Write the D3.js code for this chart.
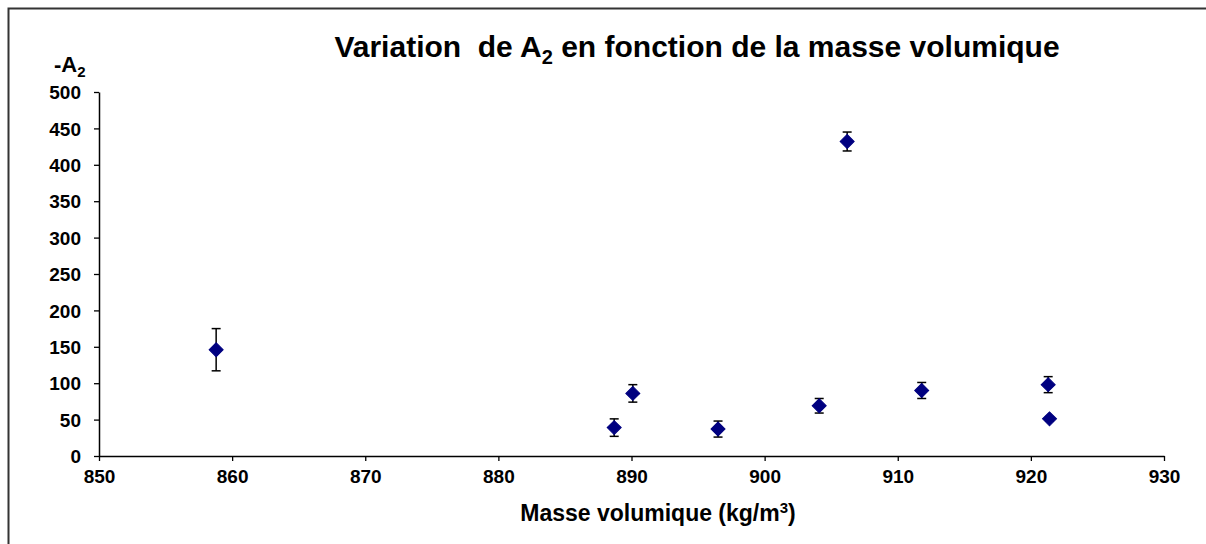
<!DOCTYPE html>
<html>
<head>
<meta charset="utf-8">
<script src="https://cdn.jsdelivr.net/npm/d3@7"></script>
<style>
  html, body { margin: 0; padding: 0; background: #fff; }
  svg { display: block; }
  text { font-family: Arial, "Liberation Sans", sans-serif; font-weight: bold; fill: #000; }
</style>
</head>
<body>
<svg id="chart" width="1206" height="544"></svg>
<script>
// ---- data ----
const density = [858.8, 888.7, 890.1, 896.5, 904.1, 906.2, 911.8, 921.3, 921.4];
const minusA2 = [146, 39, 86, 37, 69, 432, 90, 98, 51];
const errA2   = [29, 12, 12, 11, 10, 13, 11, 11, 3];
const xTicks = [850, 860, 870, 880, 890, 900, 910, 920, 930];
const yTicks = [0, 50, 100, 150, 200, 250, 300, 350, 400, 450, 500];
const titleText = ["Variation  de A", "2", " en fonction de la masse volumique"];
const xLabel = ["Masse volumique (kg/m", "3", ")"];
const yLabel = ["-A", "2"];

const svg = d3.select("#chart");
const W = 1206, H = 544;
const plot = { left: 99, right: 1164, top: 92, bottom: 456 };

// outer frame
svg.append("path")
  .attr("d", `M8.5,${H} V8.5 H${W}`)
  .attr("fill", "none").attr("stroke", "#333").attr("stroke-width", 2);

const x = d3.scaleLinear().domain([850, 930]).range([plot.left, plot.right]);
const y = d3.scaleLinear().domain([0, 500]).range([plot.bottom, plot.top]);

// axes
const xAxis = d3.axisBottom(x).tickValues(xTicks).tickSize(5).tickSizeOuter(0).tickPadding(9);
const yAxis = d3.axisLeft(y).tickValues(yTicks).tickSize(5).tickSizeOuter(0).tickPadding(13);

const gx = svg.append("g").attr("transform", `translate(0,${plot.bottom})`).call(xAxis);
const gy = svg.append("g").attr("transform", `translate(${plot.left},0)`).call(yAxis);
[gx, gy].forEach(g => {
  g.select(".domain").attr("stroke", "#000").attr("stroke-width", 1.5);
  g.selectAll(".tick line").attr("stroke", "#000").attr("stroke-width", 1.3);
  g.selectAll(".tick text").attr("font-family", "Arial, 'Liberation Sans', sans-serif")
    .attr("font-weight", "bold").attr("font-size", 19).attr("fill", "#000");
});
gy.selectAll(".tick text").attr("dy", "0.35em");

// points
const data = density.map((d, i) => ({ x: d, y: minusA2[i], e: errA2[i] }));
const pts = svg.append("g");
const eb = pts.selectAll("g.eb").data(data).join("g").attr("class", "eb");
eb.append("line")
  .attr("x1", d => x(d.x)).attr("x2", d => x(d.x))
  .attr("y1", d => y(d.y + d.e)).attr("y2", d => y(d.y - d.e))
  .attr("stroke", "#000").attr("stroke-width", 1.5);
eb.append("line")
  .attr("x1", d => x(d.x) - 4.5).attr("x2", d => x(d.x) + 4.5)
  .attr("y1", d => y(d.y + d.e)).attr("y2", d => y(d.y + d.e))
  .attr("stroke", "#000").attr("stroke-width", 1.5);
eb.append("line")
  .attr("x1", d => x(d.x) - 4.5).attr("x2", d => x(d.x) + 4.5)
  .attr("y1", d => y(d.y - d.e)).attr("y2", d => y(d.y - d.e))
  .attr("stroke", "#000").attr("stroke-width", 1.5);

const marker = d3.symbol().type(d3.symbolSquare).size(98);
pts.selectAll("path.pt").data(data).join("path").attr("class", "pt")
  .attr("d", marker)
  .attr("transform", d => `translate(${x(d.x)},${y(d.y)}) rotate(45)`)
  .attr("fill", "#000080").attr("stroke", "#000080").attr("stroke-width", 1);

// title
const t = svg.append("text").attr("x", 697).attr("y", 57)
  .attr("text-anchor", "middle").attr("font-size", 30).style("white-space", "pre");
t.append("tspan").text(titleText[0]);
t.append("tspan").attr("dy", 7).attr("font-size", 20).text(titleText[1]);
t.append("tspan").attr("dy", -7).text(titleText[2]);

// y label
const yl = svg.append("text").attr("x", 54).attr("y", 72).attr("font-size", 22);
yl.append("tspan").text(yLabel[0]);
yl.append("tspan").attr("dy", 5).attr("font-size", 15).text(yLabel[1]);

// x label
const xl = svg.append("text").attr("x", 658).attr("y", 521)
  .attr("text-anchor", "middle").attr("font-size", 23);
xl.append("tspan").text(xLabel[0]);
xl.append("tspan").attr("dy", -8).attr("font-size", 15).text(xLabel[1]);
xl.append("tspan").attr("dy", 8).text(xLabel[2]);
</script>
</body>
</html>
